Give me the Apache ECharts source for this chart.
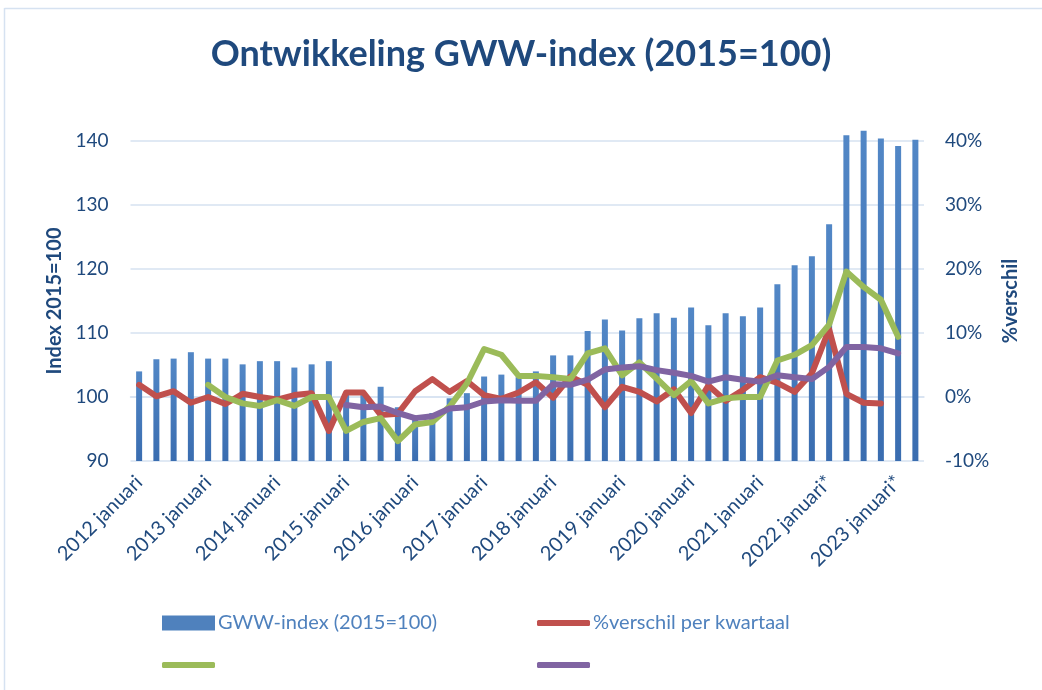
<!DOCTYPE html>
<html>
<head>
<meta charset="utf-8">
<script src="https://cdn.jsdelivr.net/npm/echarts@6/dist/echarts.min.js"></script>
<style>
  html, body { margin: 0; padding: 0; background: #fff; }
  #chart { width: 1042px; height: 690px; }
</style>
</head>
<body>
<div id="chart"></div>
<script>
// kwartalen 2012 januari t/m 2023 april
var jaren = [2012, 2013, 2014, 2015, 2016, 2017, 2018, 2019, 2020, 2021, 2022, 2023];
var maanden = ['januari', 'april', 'juli', 'oktober'];
var kwartalen = [];
jaren.forEach(function (j) {
    maanden.forEach(function (m) {
        kwartalen.push(j + ' ' + m + (j >= 2022 ? '*' : ''));
    });
});
kwartalen = kwartalen.slice(0, 46);

var gwwIndex = [104.0, 105.9, 106.0, 107.0, 106.0, 106.0, 105.1, 105.6, 105.6, 104.6,
    105.1, 105.6, 100.7, 100.3, 101.6, 98.4, 97.0, 97.5, 99.8, 100.6,
    103.2, 103.5, 103.1, 104.0, 106.5, 106.5, 110.3, 112.1, 110.4, 112.3,
    113.1, 112.4, 114.0, 111.2, 113.1, 112.6, 114.0, 117.6, 120.6, 122.0,
    127.0, 140.9, 141.6, 140.4, 139.2, 140.2];

var verschilKwartaal = [1.9, 0.1, 0.9, -0.9, 0.0, -1.1, 0.5, 0.0, -0.4, 0.3,
    0.6, -5.3, 0.7, 0.7, -2.8, -2.6, 0.9, 2.8, 0.8, 2.5,
    0.3, -0.3, 0.7, 2.3, -0.1, 3.2, 1.9, -1.6, 1.6, 0.8,
    -0.7, 1.2, -2.5, 1.8, -0.6, 1.1, 3.1, 2.2, 0.8, 3.7,
    10.6, 0.5, -0.9, -1.0, null, null];

var verschilGroen = [null, null, null, null, 1.9, 0.0, -1.0, -1.4, -0.5, -1.4,
    0.0, 0.0, -5.3, -3.9, -3.3, -6.9, -4.3, -3.9, -1.5, 2.1,
    7.5, 6.6, 3.3, 3.3, 3.1, 2.8, 6.8, 7.6, 3.4, 5.4,
    2.9, 0.3, 2.5, -1.0, -0.2, 0.0, 0.0, 5.7, 6.6, 8.1,
    11.3, 19.6, 17.2, 15.2, 9.4, null];

var verschilPaars = [null, null, null, null, null, null, null, null, null, null,
    null, null, -1.25, -1.6, -1.5, -2.5, -3.3, -3.0, -1.8, -1.6,
    -0.7, -0.5, -0.6, -0.6, 2.0, 1.9, 2.7, 4.3, 4.6, 4.8,
    4.2, 3.8, 3.3, 2.4, 3.1, 2.7, 2.4, 3.4, 3.1, 2.8,
    4.7, 7.8, 7.8, 7.6, 6.8, null];

var linksTicks = [90, 140, 10];
var rechtsTicks = [-10, 40, 10];

var fontFam = 'Lato';
var donker = '#1F497D';
var raster = '#D6E2F1';

var myChart = echarts.init(document.getElementById('chart'));

function legendItem(naam, left, top, icon, w, h, kleur) {
    return {
        data: [{ name: naam, icon: icon, itemStyle: { color: kleur } }],
        left: left,
        top: top,
        padding: 0,
        itemWidth: w,
        itemHeight: h,
        itemGap: 0,
        textStyle: { color: '#4F81BD', fontSize: 20, fontFamily: fontFam, padding: [0, 0, 0, -2] },
        selectedMode: false
    };
}

var option = {
    animation: false,
    title: {
        text: 'Ontwikkeling GWW-index (2015=100)',
        left: 'center',
        top: 36,
        padding: [0, 0, 0, 32],
        textStyle: { color: donker, fontSize: 36, fontWeight: 'bold', fontFamily: fontFam }
    },
    graphic: [
        { type: 'line', shape: { x1: 4.5, y1: 8, x2: 4.5, y2: 690 }, style: { stroke: raster, lineWidth: 1.5 } },
        { type: 'line', shape: { x1: 4.5, y1: 8.5, x2: 1042, y2: 8.5 }, style: { stroke: raster, lineWidth: 1.5 } }
    ],
    legend: [
        legendItem('GWW-index (2015=100)', 162, 613, 'rect', 53, 15, '#4F81BD'),
        legendItem('%verschil per kwartaal', 537, 613, 'roundRect', 53, 6, '#C0504D'),
        legendItem(' ', 162, 655, 'roundRect', 53, 6, '#9BBB59'),
        legendItem('  ', 537, 655, 'roundRect', 53, 6, '#8064A2')
    ],
    grid: {
        left: 130.5,
        right: 118,
        top: 141,
        bottom: 229
    },
    xAxis: {
        type: 'category',
        data: kwartalen,
        axisLine: { lineStyle: { color: raster, width: 1.5 } },
        axisTick: { show: false },
        axisLabel: {
            interval: 3,
            rotate: 45,
            margin: 18,
            color: donker,
            fontSize: 20,
            fontFamily: fontFam
        }
    },
    yAxis: [
        {
            type: 'value',
            min: linksTicks[0],
            max: linksTicks[1],
            interval: linksTicks[2],
            startValue: linksTicks[0],
            name: 'Index 2015=100',
            nameLocation: 'middle',
            nameRotate: 90,
            nameGap: 66,
            nameTextStyle: { color: donker, fontSize: 20, fontWeight: 'bold', fontFamily: fontFam },
            axisLine: { show: false },
            axisTick: { show: false },
            axisLabel: { margin: 22, color: donker, fontSize: 19, fontFamily: fontFam },
            splitLine: { lineStyle: { color: raster, width: 1.5 } }
        },
        {
            type: 'value',
            min: rechtsTicks[0],
            max: rechtsTicks[1],
            interval: rechtsTicks[2],
            name: '%verschil',
            nameLocation: 'middle',
            nameRotate: 90,
            nameGap: 76,
            nameTextStyle: { color: donker, fontSize: 20, fontWeight: 'bold', fontFamily: fontFam },
            axisLine: { show: false },
            axisTick: { show: false },
            axisLabel: { margin: 21, color: donker, fontSize: 19, fontFamily: fontFam, formatter: '{value}%' },
            splitLine: { show: false }
        }
    ],
    series: [
        {
            name: 'GWW-index (2015=100)',
            type: 'bar',
            data: gwwIndex,
            barWidth: 6,
            clip: false,
            itemStyle: {
                color: new echarts.graphic.LinearGradient(0, 0, 0, 1, [
                    { offset: 0, color: '#5287C6' },
                    { offset: 1, color: '#3A6DB0' }
                ])
            }
        },
        {
            name: '%verschil per kwartaal',
            type: 'line',
            yAxisIndex: 1,
            data: verschilKwartaal,
            showSymbol: false,
            lineStyle: { color: '#C0504D', width: 6, cap: 'round', join: 'round' },
            itemStyle: { color: '#C0504D' }
        },
        {
            name: ' ',
            type: 'line',
            yAxisIndex: 1,
            data: verschilGroen,
            showSymbol: false,
            lineStyle: { color: '#9BBB59', width: 6, cap: 'round', join: 'round' },
            itemStyle: { color: '#9BBB59' }
        },
        {
            name: '  ',
            type: 'line',
            yAxisIndex: 1,
            data: verschilPaars,
            showSymbol: false,
            lineStyle: { color: '#8064A2', width: 6, cap: 'round', join: 'round' },
            itemStyle: { color: '#8064A2' }
        }
    ]
};
myChart.setOption(option);
</script>
</body>
</html>
